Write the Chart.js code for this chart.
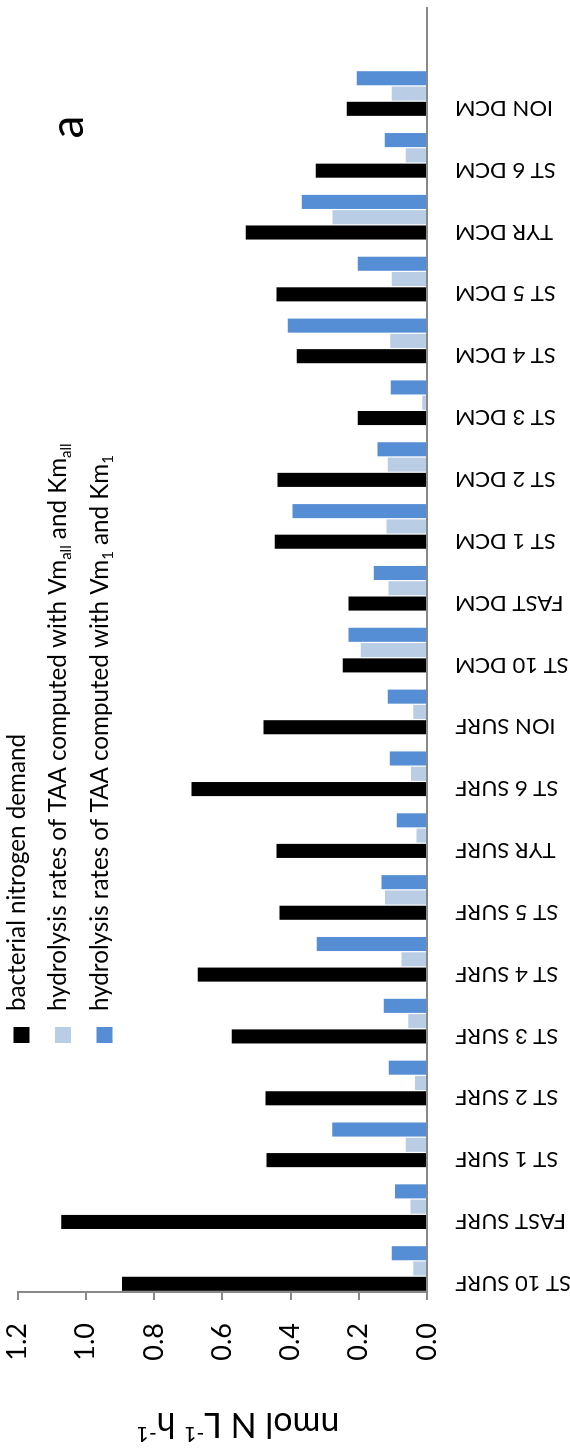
<!DOCTYPE html>
<html>
<head>
<meta charset="utf-8">
<script src="https://cdn.jsdelivr.net/npm/chart.js@4/dist/chart.umd.min.js"></script>
<style>
  html, body { margin: 0; padding: 0; background: #fff; width: 570px; height: 1451px; overflow: hidden; }
  /* the chart is laid out landscape and turned a quarter turn anticlockwise */
  #frame {
    position: absolute; left: 0; top: 0;
    width: 1451px; height: 570px;
    transform-origin: 0 0;
    transform: translate(0, 1451px) rotate(-90deg);
  }
  canvas { background: #fff; }
</style>
</head>
<body>
<div id="frame"><canvas id="chart" width="1451" height="570"></canvas></div>
<script>
// Stations (surface, then deep chlorophyll maximum)
const stations = [
  'ST 10 SURF', 'FAST SURF', 'ST 1 SURF', 'ST 2 SURF', 'ST 3 SURF',
  'ST 4 SURF', 'ST 5 SURF', 'TYR SURF', 'ST 6 SURF', 'ION SURF',
  'ST 10 DCM', 'FAST DCM', 'ST 1 DCM', 'ST 2 DCM', 'ST 3 DCM',
  'ST 4 DCM', 'ST 5 DCM', 'TYR DCM', 'ST 6 DCM', 'ION DCM'
];

// nmol N L-1 h-1
const nitrogenDemand = [
  0.894, 1.072, 0.470, 0.473, 0.572, 0.672, 0.432, 0.441, 0.690, 0.479,
  0.247, 0.230, 0.446, 0.438, 0.203, 0.382, 0.441, 0.531, 0.326, 0.235
];
const hydrolysisVmAll = [
  0.040, 0.048, 0.062, 0.035, 0.055, 0.075, 0.123, 0.031, 0.047, 0.040,
  0.194, 0.113, 0.119, 0.115, 0.014, 0.108, 0.103, 0.277, 0.062, 0.103
];
const hydrolysisVm1 = [
  0.103, 0.094, 0.278, 0.112, 0.127, 0.323, 0.133, 0.089, 0.109, 0.115,
  0.230, 0.156, 0.394, 0.145, 0.106, 0.408, 0.203, 0.367, 0.124, 0.206
];

const valueTicks = [0, 0.2, 0.4, 0.6, 0.8, 1.0, 1.2];

const FONT = "Lato, 'Noto Sans', sans-serif";
const AXIS_GREY = '#898989';
const COLORS = { demand: '#000000', vmAll: '#B9CDE5', vm1: '#558ED5' };

// station labels sit slightly before the centre of each bar group
const LABEL_SHIFT = 0.235;

const toPoints = arr => arr.map((v, i) => ({ x: i, y: v }));

// Draws a run of text pieces, some of them sub- or superscript
function drawRich(ctx, parts, x, y, size, align) {
  const segs = parts.map(p => {
    const s = (p.sub || p.sup) ? size * 0.62 : size;
    ctx.font = s + 'px ' + FONT;
    return { p, s, w: ctx.measureText(p.t).width };
  });
  const total = segs.reduce((a, g) => a + g.w, 0);
  let cx = align === 'center' ? x - total / 2 : x;
  ctx.textAlign = 'left';
  ctx.textBaseline = 'alphabetic';
  for (const g of segs) {
    ctx.font = g.s + 'px ' + FONT;
    const dy = g.p.sub ? size * 0.22 : (g.p.sup ? -size * 0.4 : 0);
    ctx.fillText(g.p.t, cx, y + dy);
    cx += g.w;
  }
  return total;
}

const legendEntries = [
  { color: COLORS.demand, parts: [{ t: 'bacterial nitrogen demand' }] },
  { color: COLORS.vmAll, parts: [
    { t: 'hydrolysis rates of TAA computed with Vm' }, { t: 'all', sub: true },
    { t: ' and Km' }, { t: 'all', sub: true } ] },
  { color: COLORS.vm1, parts: [
    { t: 'hydrolysis rates of TAA computed with Vm' }, { t: '1', sub: true },
    { t: ' and Km' }, { t: '1', sub: true } ] }
];

const annotations = {
  id: 'annotations',
  afterDraw(chart) {
    const ctx = chart.ctx;
    ctx.save();
    ctx.fillStyle = '#000';

    // legend inside the plot, stacked entries
    const rowCentres = [21.5, 63, 104.5];
    legendEntries.forEach((e, i) => {
      const cy = rowCentres[i];
      ctx.fillStyle = e.color;
      ctx.fillRect(408, cy - 8, 16, 16);
      ctx.fillStyle = '#000';
      drawRich(ctx, e.parts, 440, cy + 3, 24.2, 'left');
    });

    // panel letter
    ctx.font = '46px ' + FONT;
    ctx.textAlign = 'center';
    ctx.textBaseline = 'alphabetic';
    ctx.fillText('a', 1324, 83);

    // value axis title, written upwards
    ctx.save();
    ctx.translate(38, 238);
    ctx.rotate(-Math.PI / 2);
    drawRich(ctx, [
      { t: 'nmol N L' }, { t: '-1', sup: true }, { t: ' h' }, { t: '-1', sup: true }
    ], 0, 0, 34, 'center');
    ctx.restore();

    ctx.restore();
  }
};

Chart.defaults.font.family = FONT;
Chart.defaults.color = '#000';

new Chart(document.getElementById('chart'), {
  type: 'bar',
  data: {
    datasets: [
      { label: 'bacterial nitrogen demand', data: toPoints(nitrogenDemand), backgroundColor: COLORS.demand },
      { label: 'hydrolysis rates of TAA computed with Vmall and Kmall', data: toPoints(hydrolysisVmAll), backgroundColor: COLORS.vmAll },
      { label: 'hydrolysis rates of TAA computed with Vm1 and Km1', data: toPoints(hydrolysisVm1), backgroundColor: COLORS.vm1 }
    ]
  },
  options: {
    responsive: false,
    animation: false,
    devicePixelRatio: 1,
    layout: { padding: { top: 17.5, right: 8, left: 0, bottom: 0 } },
    datasets: { bar: { categoryPercentage: 0.742, barPercentage: 0.92, borderWidth: 0 } },
    plugins: { legend: { display: false }, tooltip: { enabled: false } },
    scales: {
      x: {
        type: 'linear',
        bounds: 'data',
        min: -0.38,
        max: 20.383,
        offset: false,
        afterFit(scale) {
          scale.height = 143;
          scale.paddingLeft = 0;
          scale.paddingRight = 0;
        },
        afterBuildTicks(scale) {
          scale.ticks = stations.map((s, i) => ({ value: i - LABEL_SHIFT }));
        },
        grid: { display: false },
        border: { display: true, color: AXIS_GREY, width: 2 },
        ticks: {
          autoSkip: false,
          minRotation: 90,
          maxRotation: 90,
          padding: 20,
          font: { size: 22 },
          color: '#000',
          callback: (value, index) => stations[index]
        }
      },
      y: {
        min: 0,
        max: 1.2,
        afterFit(scale) {
          scale.width = 159;
          scale.paddingTop = 0;
          scale.paddingBottom = 0;
        },
        afterBuildTicks(scale) {
          scale.ticks = valueTicks.map(v => ({ value: v }));
        },
        grid: {
          drawOnChartArea: false,
          drawTicks: true,
          tickLength: 8,
          color: AXIS_GREY,
          lineWidth: 2
        },
        border: { display: true, color: AXIS_GREY, width: 2 },
        ticks: {
          padding: 23,
          font: { size: 27 },
          color: '#000',
          callback: v => Number(v).toFixed(1)
        }
      }
    }
  },
  plugins: [annotations]
});
</script>
</body>
</html>
